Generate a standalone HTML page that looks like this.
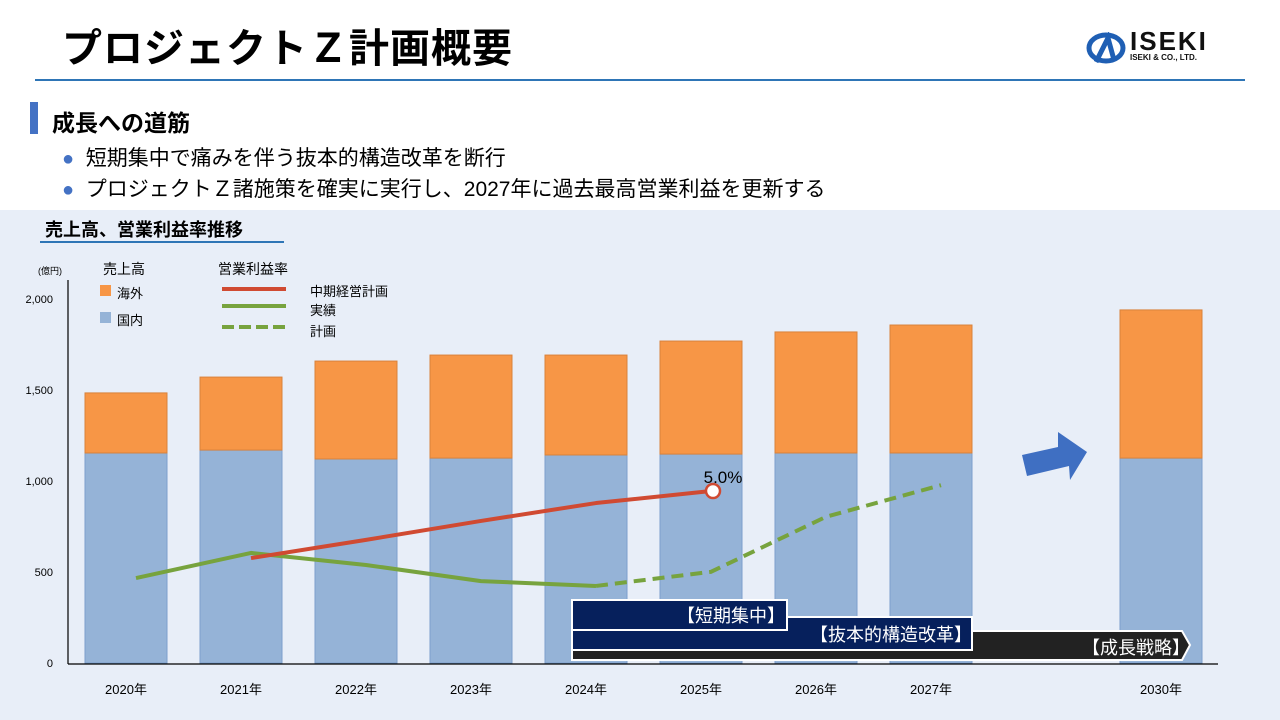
<!DOCTYPE html>
<html><head><meta charset="utf-8">
<style>
body{margin:0;width:1280px;height:720px;overflow:hidden;background:#fff;font-family:"Liberation Sans","Noto Sans CJK JP",sans-serif;position:relative}
.abs{position:absolute}
</style></head><body>
<div class="abs" style="left:62px;top:16px;font-size:40px;font-weight:bold;color:#000;letter-spacing:1px">プロジェクトＺ計画概要</div>
<div class="abs" style="left:35px;top:79px;width:1210px;height:2px;background:#2e75b6"></div>
<div class="abs" style="left:1086px;top:30px;width:140px;height:36px">
 <svg width="40" height="32" viewBox="0 0 40 32" style="position:absolute;left:0;top:2px"><ellipse cx="20" cy="16" rx="17" ry="13" fill="none" stroke="#1f5fb4" stroke-width="5"/><path d="M10 30 L22 6 L28 28" stroke="#1f5fb4" stroke-width="5" fill="none"/></svg>
 <div style="position:absolute;left:44px;top:-4px;font-size:26px;font-weight:bold;letter-spacing:2px;color:#111">ISEKI</div>
 <div style="position:absolute;left:44px;top:23px;font-size:8px;font-weight:bold;color:#111">ISEKI &amp; CO., LTD.</div>
</div>
<div class="abs" style="left:30px;top:102px;width:8px;height:32px;background:#4472c4"></div>
<div class="abs" style="left:52px;top:104px;font-size:23px;font-weight:bold">成長への道筋</div>
<div class="abs" style="left:62px;top:142px;font-size:21px"><span style="color:#4472c4;font-size:20px">●</span>&nbsp; 短期集中で痛みを伴う抜本的構造改革を断行</div>
<div class="abs" style="left:62px;top:173px;font-size:21px"><span style="color:#4472c4;font-size:20px">●</span>&nbsp; プロジェクトＺ諸施策を確実に実行し、2027年に過去最高営業利益を更新する</div>
<div class="abs" style="left:0;top:210px;width:1280px;height:510px;background:#e8eef8"></div>
<div class="abs" style="left:45px;top:216px;font-size:18px;font-weight:bold">売上高、営業利益率推移</div>
<div class="abs" style="left:40px;top:241px;width:244px;height:2px;background:#2e75b6"></div>
<svg id="chart" class="abs" style="left:0;top:0" width="1280" height="720"></svg>
<script>
const categories=["2020年","2021年","2022年","2023年","2024年","2025年","2026年","2027年","","","2030年"];
const domestic=[1154,1170,1121,1126,1143,1148,1154,1154,null,null,1126];
const overseas=[330,401,538,566,549,621,665,703,null,null,814];
const marginPlan=[null,3.05,3.58,4.13,4.65,5.0,null,null,null,null,null];
const marginActual=[2.47,3.2,2.85,2.38,2.24,null,null,null,null,null,null];
const marginForecast=[null,null,null,null,2.24,2.65,4.25,5.17,null,null,null];
const yTicks=[0,500,1000,1500,2000];
const yTickLabels=["0","500","1,000","1,500","2,000"];
const NS="http://www.w3.org/2000/svg";
const svg=document.getElementById('chart');
const x0=126,step=115,bw=82;
const xs=i=>x0+step*(i<8?i:i-1);
const ys=v=>663-v*0.182;
const ym=p=>663-p*34.4;
function el(t,a){const e=document.createElementNS(NS,t);for(const k in a)e.setAttribute(k,a[k]);svg.appendChild(e);return e;}
let e;
yTicks.forEach((v,i)=>{e=el('text',{x:53,y:ys(v)+4,'text-anchor':'end','font-size':11,fill:'#000'});e.textContent=yTickLabels[i];
});
e=el('text',{x:62,y:274,'text-anchor':'end','font-size':9});e.textContent='(億円)';

categories.forEach((c,i)=>{
 if(domestic[i]==null)return;
 const x=xs(i);
 e=el('rect',{x:x-bw/2,y:ys(domestic[i]),width:bw,height:ys(0)-ys(domestic[i]),fill:'#95b3d7',stroke:'#7d9fcc','stroke-width':1});
 
 e=el('rect',{x:x-bw/2,y:ys(domestic[i]+overseas[i]),width:bw,height:ys(domestic[i])-ys(domestic[i]+overseas[i]),fill:'#f79646',stroke:'#d9823b','stroke-width':1});
 
 e=el('text',{x:x,y:694,'text-anchor':'middle','font-size':13});e.textContent=c;
 
});
e=el('line',{x1:68,y1:280,x2:68,y2:664,stroke:'#000','stroke-width':1.2});

e=el('line',{x1:68,y1:664,x2:1218,y2:664,stroke:'#000','stroke-width':1.2});

function line(arr,color,dash,name){
 const pts=[];arr.forEach((v,i)=>{if(v!=null)pts.push((xs(i)+10)+','+ym(v));});
 e=el('polyline',{points:pts.join(' '),fill:'none',stroke:color,'stroke-width':4,'stroke-dasharray':dash||'none','stroke-linejoin':'round'});
 
}
line(marginActual,'#77a33e',null,'margin-actual-line');
line(marginForecast,'#77a33e','12,7','margin-forecast-line');
line(marginPlan,'#d04a32',null,'margin-plan-line');
e=el('circle',{cx:xs(5)+12,cy:ym(marginPlan[5]),r:7,fill:'#fff',stroke:'#d04a32','stroke-width':2.5});

e=el('text',{x:xs(5)+22,y:ym(marginPlan[5])-8,'text-anchor':'middle','font-size':17});e.textContent=marginPlan[5].toFixed(1)+'%';

</script>
<div class="abs" style="left:103px;top:259px;font-size:14px">売上高</div>
<div class="abs" style="left:100px;top:285px;width:11px;height:11px;background:#f79646"></div>
<div class="abs" style="left:117px;top:283px;font-size:13px">海外</div>
<div class="abs" style="left:100px;top:312px;width:11px;height:11px;background:#95b3d7"></div>
<div class="abs" style="left:117px;top:310px;font-size:13px">国内</div>
<div class="abs" style="left:218px;top:259px;font-size:14px">営業利益率</div>
<div class="abs" style="left:222px;top:287px;width:64px;height:4px;background:#d04a32"></div>
<div class="abs" style="left:310px;top:281px;font-size:13px">中期経営計画</div>
<div class="abs" style="left:222px;top:304px;width:64px;height:4px;background:#77a33e"></div>
<div class="abs" style="left:310px;top:300px;font-size:13px">実績</div>
<div class="abs" style="left:222px;top:325px;width:64px;height:4px;background:repeating-linear-gradient(90deg,#77a33e 0 12px,transparent 12px 17px)"></div>
<div class="abs" style="left:310px;top:321px;font-size:13px">計画</div>
<svg class="abs" style="left:0;top:0" width="1280" height="720"><polygon points="1022,455 1058,447 1058,432 1087,452 1070,480 1069,466 1027,476" fill="#3f6fc2"/></svg>
<svg class="abs" style="left:0;top:0" width="1280" height="720">
 <polygon points="572,631 1182,631 1190,645 1182,660 572,660" fill="#222" stroke="#fff" stroke-width="2"/>
 <rect x="572" y="617" width="400" height="33" fill="#06205c" stroke="#fff" stroke-width="2"/>
 <rect x="572" y="600" width="215" height="30" fill="#06205c" stroke="#fff" stroke-width="2"/>
 <text x="785" y="622" text-anchor="end" font-size="18" fill="#fff" font-family="Liberation Sans,Noto Sans CJK JP,sans-serif">【短期集中】</text>
 <text x="972" y="641" text-anchor="end" font-size="18" fill="#fff" font-family="Liberation Sans,Noto Sans CJK JP,sans-serif">【抜本的構造改革】</text>
 <text x="1190" y="654" text-anchor="end" font-size="18" fill="#fff" font-family="Liberation Sans,Noto Sans CJK JP,sans-serif">【成長戦略】</text>
</svg>
</body></html>
